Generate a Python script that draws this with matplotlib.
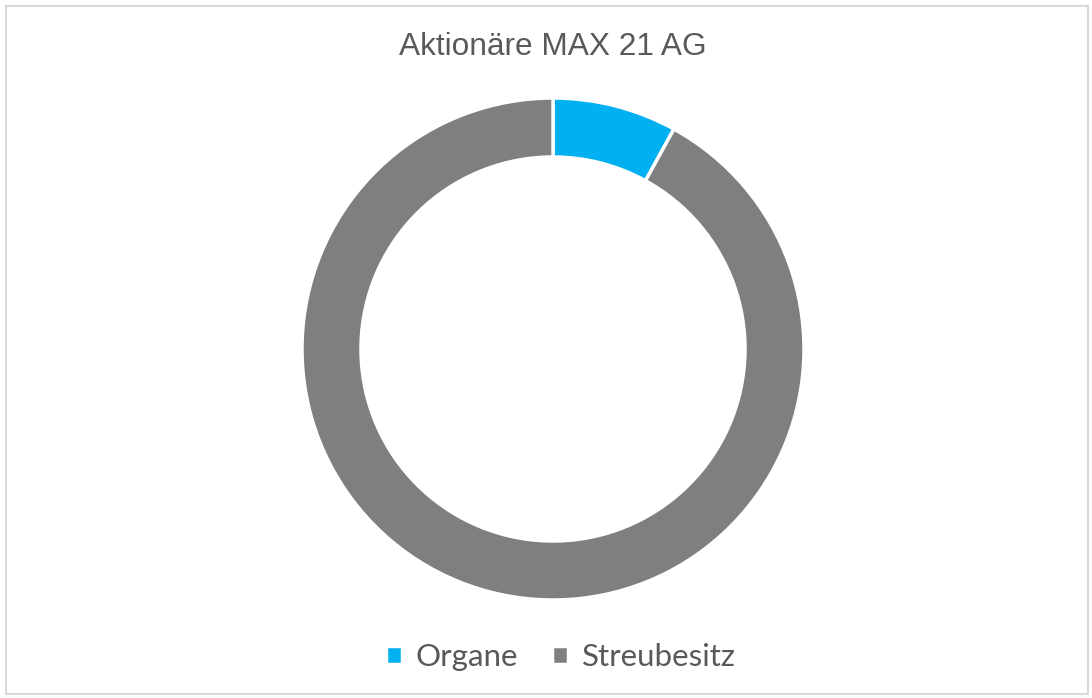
# Donut chart: Aktionäre MAX 21 AG

import matplotlib.pyplot as plt
from matplotlib.patches import Rectangle

labels = ['Organe', 'Streubesitz']
shares = [8.0, 92.0]
colors = ['#00B0F0', '#7F7F7F']

W, H = 1092, 698
fig = plt.figure(figsize=(W / 100, H / 100), dpi=100)

# light grey frame like the Excel chart area
fig.patches.append(Rectangle((6 / W, 4 / H), (W - 10) / W, (H - 10) / H,
                             transform=fig.transFigure, fill=False,
                             edgecolor='#D9D9D9', linewidth=1.5))

cx, cy, r = 553, 349, 251
ax = fig.add_axes([(cx - r) / W, (H - cy - r) / H, 2 * r / W, 2 * r / H])
wedges, _ = ax.pie(shares, colors=colors, startangle=90, counterclock=False,
                   radius=1.0, wedgeprops=dict(width=0.235, edgecolor='white', linewidth=2.5))
ax.set_xlim(-1, 1)
ax.set_ylim(-1, 1)
ax.set_aspect('equal')
ax.axis('off')

fig.text(cx / W, 1 - 47 / H, 'Aktionäre MAX 21 AG', ha='center', va='center',
         fontsize=22.8, color='#595959', family='Liberation Sans')

fig.legend(wedges, labels, loc='center', bbox_to_anchor=(561 / W, 1 - 657 / H),
           ncol=2, frameon=False, handlelength=0.5, handleheight=0.5,
           handletextpad=0.45, columnspacing=1.1,
           prop={'family': 'Lato', 'size': 22.5}, labelcolor='#595959')

fig.savefig('out.png', dpi=100)
